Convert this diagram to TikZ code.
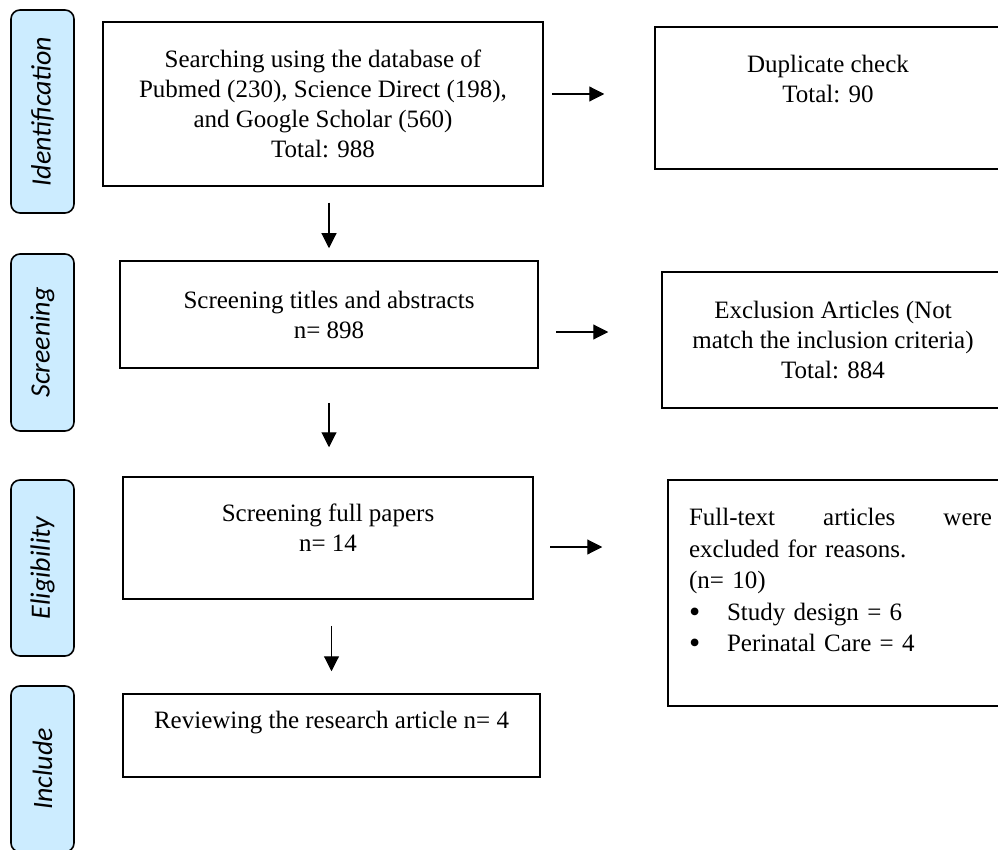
\documentclass[tikz,border=0pt]{standalone}
\usepackage{fontspec}
\setmainfont{Liberation Serif}
\newfontfamily\stagefont{Carlito}
\usetikzlibrary{arrows.meta,positioning}
\definecolor{stageblue}{RGB}{204,236,255}

\newcommand{\bulletitem}{\makebox[38pt][l]{\smash{\raisebox{-2pt}{\fontsize{32}{30}\selectfont\textbullet}}}}

\tikzset{
  stage/.style={draw,line width=1.6pt,rounded corners=9pt,fill=stageblue,rotate=90,
    minimum height=63pt,inner sep=0pt,font=\stagefont\itshape\fontsize{28}{32}\selectfont},
  box/.style={draw,line width=1.5pt,align=center,inner sep=0pt,
    font=\fontsize{25}{30}\selectfont},
}

\begin{document}
\begin{tikzpicture}[x=1pt,y=-1pt,>={Triangle[length=15pt,width=15pt]}]
     \useasboundingbox (0,0) rectangle (998,850);
     \clip (0,0) rectangle (998,850);

     \node[stage,minimum width=203pt] (ident) at (42.5,111.5) {Identification};
     \node[stage,minimum width=177pt] (scr) at (42.5,342.5) {Screening};
     \node[stage,minimum width=176pt] (elig) at (42.5,568) {Eligibility};
     \node[stage,minimum width=166pt] (incl) at (42.5,769) {Include};

     \node[box,minimum width=440pt,minimum height=164pt] (srch) at (323,104)
          {Searching using the database of\\Pubmed (230), Science Direct (198),\\and Google Scholar (560)\\Total: 988};
     \node[box,minimum width=418pt,minimum height=107pt] (ttl) at (329,314.5)
          {Screening titles and abstracts\\n= 898};
     \node[box,minimum width=410pt,minimum height=122pt,text depth=20pt] (fp) at (328,538)
          {Screening full papers\\n= 14};
     \node[box,minimum width=417pt,minimum height=83pt,text depth=32pt] (rev) at (331.5,735.5)
          {Reviewing the research article n= 4};

     \node[box,minimum width=346pt,minimum height=142pt,text depth=38pt] (dup) at (828,98)
          {Duplicate check\\Total: 90};
     \node[box,minimum width=342pt,minimum height=136pt] (excl) at (833,340)
          {Exclusion Articles (Not\\match the inclusion criteria)\\Total: 884};
     \node[box,align=left,text width=303pt,minimum width=345pt,minimum height=226pt,
          text depth=152pt,font=\fontsize{25}{31.5}\selectfont] (ftx) at (840.5,593)
          {Full-text\hfill articles\hfill were\\excluded for reasons.\\(n= 10)\\
           \bulletitem Study design = 6\\
           \bulletitem Perinatal Care = 4};

     \coordinate (a1) at (552,94);
     \coordinate (a2) at (556,332);
     \coordinate (a3) at (550,547);

     \draw[->,line width=1.1pt,shorten >=50pt] (a1) -- (a1 -| dup.west);
     \draw[->,line width=1.1pt,shorten >=53pt] (a2) -- (a2 -| excl.west);
     \draw[->,line width=1.1pt,shorten >=65pt] (a3) -- (a3 -| ftx.west);

     \draw[->,line width=1.1pt,shorten <=16pt,shorten >=12pt] (ttl.north |- srch.south) -- (ttl.north);
     \draw[->,line width=1.1pt,shorten <=34pt,shorten >=29pt] (ttl.south) -- (ttl.south |- fp.north);
     \draw[->,line width=1.1pt,shorten <=26pt,shorten >=22pt] (rev.north |- fp.south) -- (rev.north);

     \end{tikzpicture}
\end{document}
